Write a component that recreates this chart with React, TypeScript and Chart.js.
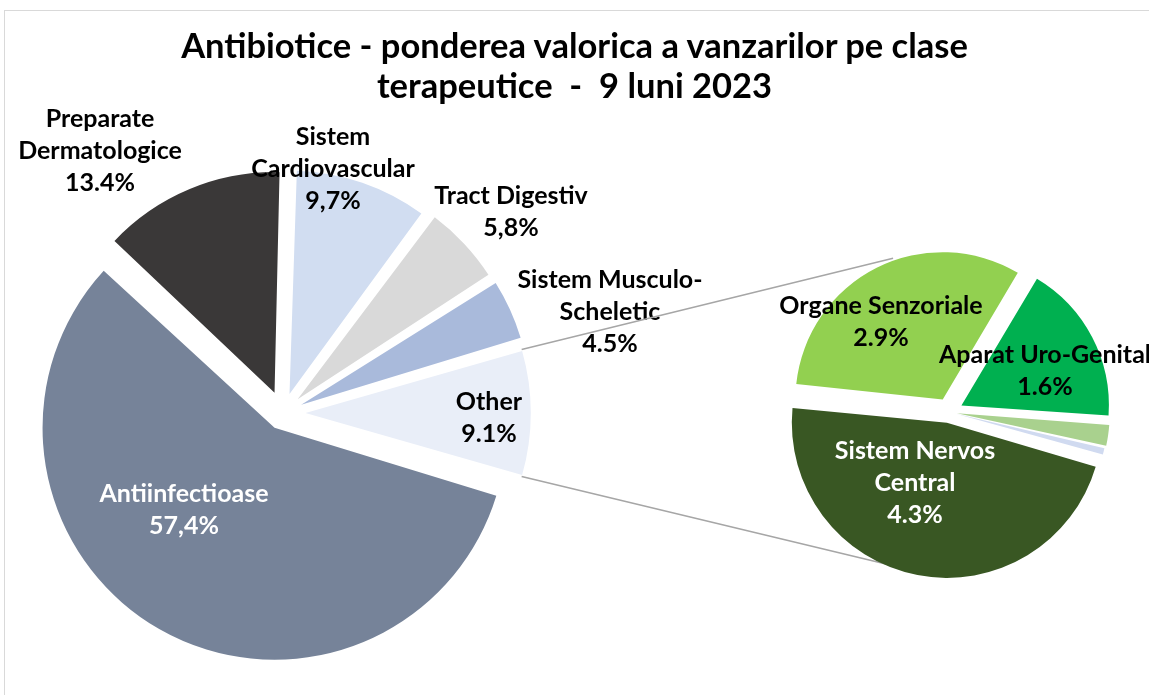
import React, { useEffect, useRef } from "react";
import { Chart, registerables } from "chart.js";

Chart.register(...registerables);

// ---------- DATA ----------
const mainCategories = [
  "Antiinfectioase",
  "Preparate Dermatologice",
  "Sistem Cardiovascular",
  "Tract Digestiv",
  "Sistem Musculo-Scheletic",
  "Other",
];
const mainValues = [57.4, 13.4, 9.7, 5.8, 4.5, 9.1];
const mainValueLabels = ["57,4%", "13.4%", "9,7%", "5,8%", "4.5%", "9.1%"];
const mainNameLines = [
  ["Antiinfectioase"],
  ["Preparate", "Dermatologice"],
  ["Sistem", "Cardiovascular"],
  ["Tract Digestiv"],
  ["Sistem Musculo-", "Scheletic"],
  ["Other"],
];

const subCategories = [
  "Organe Senzoriale",
  "Aparat Uro-Genital",
  "Alte clase (1)",
  "Alte clase (2)",
  "Sistem Nervos Central",
];
const subValues = [2.9, 1.6, 0.22, 0.08, 4.3];
const subValueLabels = ["2.9%", "1.6%", "", "", "4.3%"];
const subNameLines = [
  ["Organe Senzoriale"],
  ["Aparat Uro-Genital"],
  [],
  [],
  ["Sistem Nervos", "Central"],
];

const titleLines = [
  "Antibiotice - ponderea valorica a vanzarilor pe clase",
  "terapeutice  -  9 luni 2023",
];

// ---------- STYLE ----------
const mainColors = ["#768399", "#3a3838", "#d1ddf1", "#d9d9d9", "#a9badb", "#e9eef8"];
const subColors = ["#92d050", "#00b050", "#a9d18e", "#d0daf0", "#395723"];
const mainOffsets = [68, 88, 80, 80, 80, 90]; // Chart.js arc offset (shift = offset / 4)
const subOffsets = [56, 56, 32, 28, 44];
const mainLabelColors = ["#ffffff", "#000000", "#000000", "#000000", "#000000", "#000000"];
const subLabelColors = ["#000000", "#000000", "#000000", "#000000", "#ffffff"];
// label anchor (centre of first line), in px
const mainLabelPos = [
  [184, 494],
  [100, 119],
  [333, 137],
  [511, 196],
  [610, 280],
  [489, 402],
];
const subLabelPos = [
  [881, 306],
  [1045, 355],
  [0, 0],
  [0, 0],
  [915, 451],
];

const W = 1149;
const H = 695;
const FONT = "Lato, 'Open Sans', sans-serif";
const LABEL_SIZE = 25;
const LINE_H = 32;

function labelPlugin(
  id: string,
  names: string[][],
  values: string[],
  pos: number[][],
  colors: string[]
) {
  return {
    id,
    afterDatasetsDraw(chart: any) {
      const ctx = chart.ctx;
      ctx.save();
      ctx.font = `bold ${LABEL_SIZE}px ${FONT}`;
      ctx.textAlign = "center";
      ctx.textBaseline = "middle";
      names.forEach((lines, i) => {
        if (!values[i]) return;
        const all = [...lines, values[i]];
        ctx.fillStyle = colors[i];
        all.forEach((t, k) => ctx.fillText(t, pos[i][0], pos[i][1] + k * LINE_H));
      });
      ctx.restore();
    },
  };
}

// real drawn geometry of a Chart.js arc with offset
function arcGeom(arc: any) {
  const off = (arc.options.offset || 0) / 4;
  const circ = arc.endAngle - arc.startAngle;
  const fix = 1 - Math.sin(Math.min(Math.PI, circ || 0));
  const mid = (arc.startAngle + arc.endAngle) / 2;
  return {
    x: arc.x + off * Math.cos(mid),
    y: arc.y + off * Math.sin(mid),
    r: arc.outerRadius + off * fix,
  };
}

export default function App() {
  const mainRef = useRef<HTMLCanvasElement>(null);
  const subRef = useRef<HTMLCanvasElement>(null);

  useEffect(() => {
    const mainTotal = mainValues.reduce((a, b) => a + b, 0);
    const otherIdx = mainValues.length - 1;

    const main = new Chart(mainRef.current as HTMLCanvasElement, {
      type: "pie",
      data: {
        labels: mainCategories,
        datasets: [
          {
            data: mainValues,
            backgroundColor: mainColors,
            borderWidth: 0,
            offset: mainOffsets,
          },
        ],
      },
      options: {
        responsive: false,
        animation: false,
        events: [],
        rotation: 90 + (mainValues[otherIdx] / mainTotal) * 180,
        radius: 215,
        layout: { padding: { left: 53, right: 636, top: 183, bottom: 52 } },
        plugins: {
          legend: { display: false },
          tooltip: { enabled: false },
          title: { display: false },
        },
      } as any,
      plugins: [labelPlugin("mainLabels", mainNameLines, mainValueLabels, mainLabelPos, mainLabelColors)],
    });

    const connector = {
      id: "connector",
      beforeDatasetsDraw(chart: any) {
        const arc: any = main.getDatasetMeta(0).data[otherIdx];
        const subArc: any = chart.getDatasetMeta(0).data[0];
        if (!arc || !subArc) return;
        const g = arcGeom(arc);
        const p1 = [g.x + g.r * Math.cos(arc.startAngle), g.y + g.r * Math.sin(arc.startAngle)];
        const p2 = [g.x + g.r * Math.cos(arc.endAngle), g.y + g.r * Math.sin(arc.endAngle)];
        const r2 = subArc.outerRadius * 1.12;
        const a = (110 * Math.PI) / 180;
        const q1 = [subArc.x + r2 * Math.cos(-a), subArc.y + r2 * Math.sin(-a)];
        const q2 = [subArc.x + r2 * Math.cos(a), subArc.y + r2 * Math.sin(a)];
        const ctx = chart.ctx;
        ctx.save();
        ctx.strokeStyle = "#a6a6a6";
        ctx.lineWidth = 1.5;
        ctx.beginPath();
        ctx.moveTo(p1[0], p1[1]);
        ctx.lineTo(q1[0], q1[1]);
        ctx.moveTo(p2[0], p2[1]);
        ctx.lineTo(q2[0], q2[1]);
        ctx.stroke();
        ctx.restore();
      },
    };

    const sub = new Chart(subRef.current as HTMLCanvasElement, {
      type: "pie",
      data: {
        labels: subCategories,
        datasets: [
          {
            data: subValues,
            backgroundColor: subColors,
            borderWidth: 0,
            offset: subOffsets,
          },
        ],
      },
      options: {
        responsive: false,
        animation: false,
        events: [],
        rotation: 276,
        radius: 146,
        layout: { padding: { left: 789, right: 40, top: 252, bottom: 123 } },
        plugins: {
          legend: { display: false },
          tooltip: { enabled: false },
          title: { display: false },
        },
      } as any,
      plugins: [
        connector,
        labelPlugin("subLabels", subNameLines, subValueLabels, subLabelPos, subLabelColors),
      ],
    });

    return () => {
      sub.destroy();
      main.destroy();
    };
  }, []);

  return (
    <div
      style={{
        position: "absolute",
        left: 0,
        top: 0,
        width: W,
        height: H,
        overflow: "hidden",
        background: "#ffffff",
      }}
    >
      <div
        style={{
          position: "absolute",
          left: 4,
          top: 10,
          width: 1300,
          height: 900,
          border: "1px solid #d9d9d9",
        }}
      />
      <canvas
        ref={mainRef}
        width={W}
        height={H}
        style={{ position: "absolute", left: 0, top: 0, width: W, height: H }}
      />
      <canvas
        ref={subRef}
        width={W}
        height={H}
        style={{ position: "absolute", left: 0, top: 0, width: W, height: H }}
      />
      <div
        style={{
          position: "absolute",
          left: 0,
          top: 25,
          width: W,
          textAlign: "center",
          fontFamily: FONT,
          fontWeight: 700,
          fontSize: 34.5,
          lineHeight: "40px",
          color: "#000000",
          whiteSpace: "pre",
        }}
      >
        {titleLines.map((t, i) => (
          <div key={i}>{t}</div>
        ))}
      </div>
    </div>
  );
}
